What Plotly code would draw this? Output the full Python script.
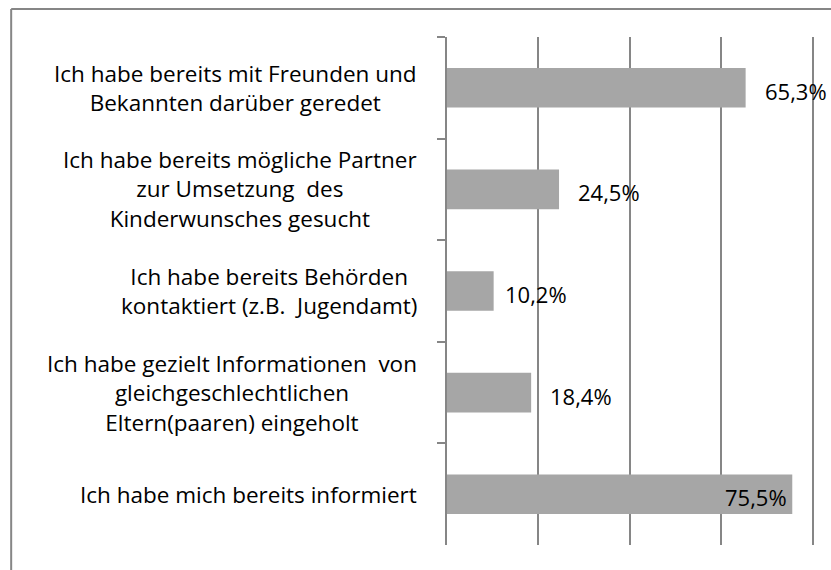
import plotly.graph_objects as go

categories = [
    "Ich habe bereits mit Freunden und<br>Bekannten darüber geredet",
    "Ich habe bereits mögliche Partner<br>zur Umsetzung  des<br>Kinderwunsches gesucht",
    "Ich habe bereits Behörden<br>kontaktiert (z.B.  Jugendamt)",
    "Ich habe gezielt Informationen  von<br>gleichgeschlechtlichen<br>Eltern(paaren) eingeholt",
    "Ich habe mich bereits informiert",
]
values = [65.3, 24.5, 10.2, 18.4, 75.5]
value_labels = ["65,3%", "24,5%", "10,2%", "18,4%", "75,5%"]
label_inside = [False, False, False, False, True]
label_gap = [17, 17, 9, 17, 17]
x_ticks = [0, 20, 40, 60, 80]

FONT = "Open Sans"
GRAY = "#868686"

X_MAX = 82  # a little past 80 so the last gridline is drawn inside the plot
W, H = 831, 570
L, T, B = 447, 37, 545
R = L + (813 - L) * X_MAX / 80
pw, ph = R - L, B - T

fig = go.Figure()
fig.add_trace(go.Bar(
    x=values, y=categories, orientation="h",
    marker=dict(color="#A6A6A6", line=dict(width=0)),
    width=0.39, hoverinfo="skip",
))

annotations = []
for c in categories:
    annotations.append(dict(
        x=(419 - L) / pw, xref="paper", y=c, yref="y",
        text=c, showarrow=False, xanchor="right", align="center",
        font=dict(family=FONT, size=22.5, color="#000000"),
    ))
for c, v, t, ins, gap in zip(categories, values, value_labels, label_inside, label_gap):
    annotations.append(dict(
        x=v, xref="x", y=c, yref="y", text=t, showarrow=False,
        xanchor="right" if ins else "left",
        xshift=-3 if ins else gap, yshift=-3,
        font=dict(family=FONT, size=22, color="#000000"),
    ))

fx = (11 - L) / pw
fy = (B - 9) / ph
shapes = [
    dict(type="line", xref="paper", yref="paper",
         x0=fx, x1=fx, y0=fy, y1=-0.3,
         line=dict(color=GRAY, width=2)),
    dict(type="line", xref="paper", yref="paper",
         x0=fx, x1=1.3, y0=fy, y1=fy,
         line=dict(color=GRAY, width=2)),
]

fig.update_layout(
    width=W, height=H,
    margin=dict(l=L, r=W - R, t=T, b=H - B, pad=0),
    paper_bgcolor="white", plot_bgcolor="white",
    showlegend=False,
    annotations=annotations, shapes=shapes,
    xaxis=dict(range=[0, X_MAX], tickvals=x_ticks, showticklabels=False,
               showgrid=True, gridcolor=GRAY, gridwidth=1.5,
               zeroline=False, showline=False, fixedrange=True),
    yaxis=dict(autorange="reversed", showticklabels=False,
               showline=True, linecolor=GRAY, linewidth=2,
               ticks="outside", ticklen=8, tickwidth=2, tickcolor=GRAY,
               tickson="boundaries", showgrid=False, zeroline=False,
               fixedrange=True),
)

fig.write_html(
    "out.html",
    config={"displayModeBar": False},
    post_script="document.body.style.margin='0px';document.body.style.overflow='hidden';",
)
